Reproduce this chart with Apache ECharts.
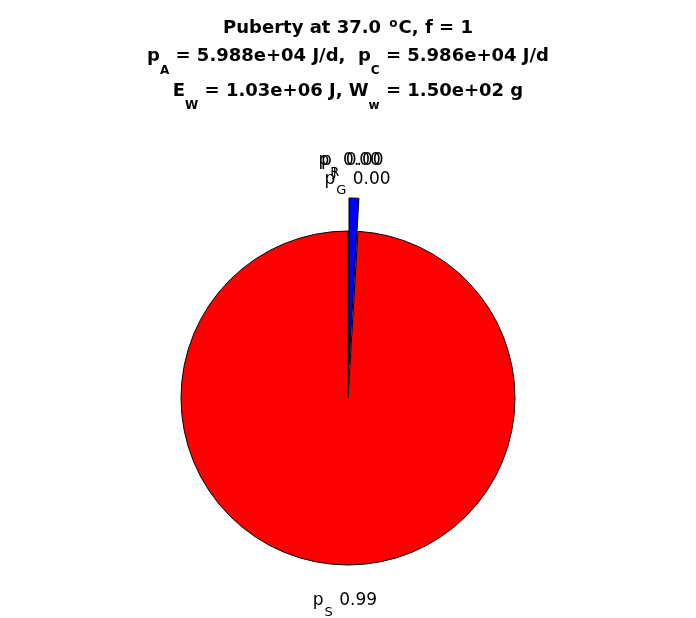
<!DOCTYPE html>
<html>
<head>
<meta charset="utf-8">
<script src="https://cdn.jsdelivr.net/npm/echarts@6/dist/echarts.min.js"></script>
<style>
  html, body { margin: 0; padding: 0; background: #fff; }
  #chart { width: 696px; height: 618px; }
</style>
</head>
<body>
<div id="chart"></div>
<script>
// ---- data ----
const sliceSymbols   = ['J', 'R', 'S', 'G'];          // subscripts of p_x
const sliceFractions = [0, 0, 0.9905, 0.0095];        // share of p_C
const sliceLabels    = ['0.00', '0.00', '0.99', '0.00'];
const sliceColors    = ['#FF00FF', '#00C000', '#FF0000', '#0000FF'];
const sliceExploded  = [false, false, false, true];

const titleLines = [
  'Puberty at 37.0 {sup|o}C, f = 1',
  'p{sub|A} = 5.988e+04 J/d,  p{sub|C} = 5.986e+04 J/d',
  'E{sub|W} = 1.03e+06 J, W{sub|w} = 1.50e+02 g'
];

const FONT = "'DejaVu Sans', 'Liberation Sans', Arial, sans-serif";
const labelLen = [70, 70, 36, 19];

const chart = echarts.init(document.getElementById('chart'), null, { renderer: 'canvas' });

const titleTops = [18, 35, 70];
const titles = titleLines.map((t, i) => ({
  text: t,
  left: 'center',
  top: titleTops[i],
  padding: 0,
  textStyle: {
    fontFamily: FONT, fontSize: 18, fontWeight: 'bold', color: '#000',
    rich: {
      sup: { fontFamily: FONT, fontSize: 12, fontWeight: 'bold', color: '#000', padding: [0, 1, 9, 2] },
      sub: { fontFamily: FONT, fontSize: 12, fontWeight: 'bold', color: '#000', padding: [30, 0, 0, 0] }
    }
  }
}));

const data = sliceFractions.map((v, i) => ({
  value: v,
  name: 'p' + sliceSymbols[i],
  selected: sliceExploded[i],
  itemStyle: { color: sliceColors[i] },
  labelLine: { show: false, length: labelLen[i], length2: 0 },
  label: {
    formatter: '{m|p}{s|' + sliceSymbols[i] + '} {m|' + sliceLabels[i] + '}'
  }
}));

chart.setOption({
  animation: false,
  backgroundColor: '#fff',
  title: titles,
  series: [{
    type: 'pie',
    center: [348, 398],
    radius: [0, 167],
    startAngle: 90,
    clockwise: false,
    selectedMode: 'multiple',
    selectedOffset: 33,
    avoidLabelOverlap: false,
    minShowLabelAngle: 0,
    stillShowZeroSum: true,
    itemStyle: { borderColor: '#000', borderWidth: 1 },
    emphasis: { disabled: true },
    label: {
      show: true,
      position: 'outside',
      distanceToLabelLine: 0,
      color: '#000',
      fontFamily: FONT,
      fontSize: 17,
      rich: {
        m: { fontFamily: FONT, fontSize: 17, color: '#000' },
        s: { fontFamily: FONT, fontSize: 13, color: '#000', padding: [23, 1, 0, 1] }
      }
    },
    labelLayout: function () {
      return { align: 'center', dx: 3 };
    },
    data: data
  }]
});
</script>
</body>
</html>
